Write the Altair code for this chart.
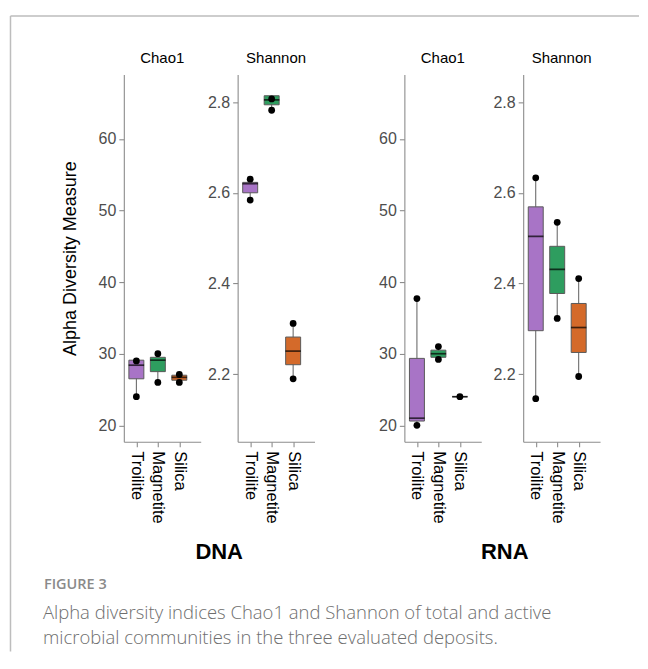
import altair as alt
import pandas as pd

# ---------------- data ----------------
minerals = ["Troilite", "Magnetite", "Silica"]
mineral_colors = ["#a874c6", "#2e9d5f", "#d46a2a"]

# DNA - Chao1
dna_chao1_lower = [24.0, 26.0, 26.0]
dna_chao1_q1 = [26.5, 27.5, 26.3]
dna_chao1_median = [28.4, 29.1, 26.7]
dna_chao1_q3 = [29.1, 29.5, 27.0]
dna_chao1_upper = [29.1, 30.0, 27.1]
dna_chao1_pt_mineral = ["Troilite", "Troilite", "Magnetite", "Magnetite", "Silica", "Silica"]
dna_chao1_pt_value = [29.0, 24.0, 30.0, 26.0, 27.1, 26.0]

# DNA - Shannon
dna_shannon_lower = [2.584, 2.782, 2.190]
dna_shannon_q1 = [2.600, 2.794, 2.221]
dna_shannon_median = [2.620, 2.805, 2.251]
dna_shannon_q3 = [2.623, 2.814, 2.282]
dna_shannon_upper = [2.630, 2.814, 2.312]
dna_shannon_pt_mineral = ["Troilite", "Troilite", "Magnetite", "Magnetite", "Silica", "Silica"]
dna_shannon_pt_value = [2.630, 2.584, 2.807, 2.782, 2.312, 2.190]

# RNA - Chao1
rna_chao1_lower = [20.0, 29.2, 24.0]
rna_chao1_q1 = [20.6, 29.5, 24.0]
rna_chao1_median = [21.0, 30.0, 24.0]
rna_chao1_q3 = [29.35, 30.5, 24.0]
rna_chao1_upper = [37.7, 31.0, 24.0]
rna_chao1_pt_mineral = ["Troilite", "Troilite", "Magnetite", "Magnetite", "Silica"]
rna_chao1_pt_value = [37.7, 20.0, 31.0, 29.2, 24.0]

# RNA - Shannon
rna_shannon_lower = [2.146, 2.323, 2.195]
rna_shannon_q1 = [2.296, 2.378, 2.248]
rna_shannon_median = [2.504, 2.431, 2.303]
rna_shannon_q3 = [2.569, 2.482, 2.356]
rna_shannon_upper = [2.633, 2.535, 2.411]
rna_shannon_pt_mineral = ["Troilite", "Troilite", "Magnetite", "Magnetite", "Silica", "Silica"]
rna_shannon_pt_value = [2.633, 2.146, 2.535, 2.323, 2.411, 2.195]

chao1_domain = [17.7, 69.0]
chao1_ticks = [20, 30, 40, 50, 60]
shannon_domain = [2.051, 2.861]
shannon_ticks = [2.2, 2.4, 2.6, 2.8]

y_title = "Alpha Diversity Measure"
figure_label = "FIGURE 3"
caption_lines = [
    "Alpha diversity indices Chao1 and Shannon of total and active",
    "microbial communities in the three evaluated deposits.",
]

# ---------------- style ----------------
FONT = "Liberation Sans"
CAP_FONT = "Open Sans"
AXIS_GREY = "#8c8c8c"
PANEL_W, PANEL_H = 77, 368


def box_frame(lower, q1, median, q3, upper):
    return pd.DataFrame({"mineral": minerals, "lower": lower, "q1": q1,
                         "median": median, "q3": q3, "upper": upper})


def point_frame(mins, vals):
    return pd.DataFrame({"mineral": mins, "value": vals})


def panel(box_df, pt_df, index_name, y_domain, y_ticks, y_format,
          x_title=None, x_title_x=0.0, show_y_title=False):
    xak = dict(labelAngle=90, labelFontSize=16.5, labelColor="black", labelFont=FONT,
               labelPadding=4, tickSize=5, tickColor=AXIS_GREY, domainColor=AXIS_GREY,
               tickWidth=1.1, domainWidth=1.1, grid=False, values=minerals)
    if x_title:
        xak.update(titleX=x_title_x, titleY=110, titleAlign="center", titleBaseline="middle",
                   titleFontSize=22, titleFontWeight="bold", titleColor="black", titleFont=FONT)
    x = alt.X("mineral:N", sort=minerals, title=x_title,
              scale=alt.Scale(type="point", domain=minerals, padding=0.79, align=0.37),
              axis=alt.Axis(**xak))

    yak = dict(values=y_ticks, format=y_format, labelFontSize=16, labelColor="#4d4d4d",
               labelFont=FONT, tickSize=5, tickColor=AXIS_GREY, domainColor=AXIS_GREY,
               tickWidth=1.1, domainWidth=1.1, grid=False, labelPadding=3)
    if show_y_title:
        yak.update(titleX=-53, titleY=PANEL_H / 2, titleAlign="center", titleBaseline="middle",
                   titleAngle=-90, titleFontSize=18, titleFontWeight="normal",
                   titleColor="black", titleFont=FONT)
    ysc = alt.Scale(domain=y_domain, nice=False, zero=False)

    def Y(field):
        return alt.Y(f"{field}:Q", scale=ysc, axis=alt.Axis(**yak),
                     title=(y_title if show_y_title else None))

    base = alt.Chart(box_df)
    whisker = base.mark_rule(color="#4d4d4d", strokeWidth=0.9).encode(
        x=x, y=Y("lower"), y2="upper:Q")
    box = base.mark_bar(size=15, stroke="#5a5a5a", strokeWidth=1).encode(
        x=x, y=Y("q1"), y2="q3:Q",
        color=alt.Color("mineral:N", scale=alt.Scale(domain=minerals, range=mineral_colors),
                        legend=None))
    med = base.mark_tick(size=15.5, thickness=1.7, color="black").encode(x=x, y=Y("median"))
    pts = alt.Chart(pt_df).mark_circle(size=46, color="black", opacity=1).encode(
        x=x, y=Y("value"))
    return alt.layer(whisker, box, med, pts).properties(
        width=PANEL_W, height=PANEL_H,
        title=alt.TitleParams(index_name, fontSize=15, font=FONT, fontWeight="normal",
                              color="black", offset=8, anchor="middle", frame="group"))


dummy = pd.DataFrame({"d": [0]})


def spacer(w, layers=()):
    blank = alt.Chart(dummy).mark_rule(opacity=0).encode(
        x=alt.value(0), y=alt.value(0), y2=alt.value(1))
    return alt.layer(blank, *layers).properties(width=w, height=PANEL_H)


# host origin (sp1) sits at page x = 200, y = 73
HX, HY = 200, 73
BORDER_COLOR = "#bdbdbd"
border_top = alt.Chart(dummy).mark_rule(color=BORDER_COLOR, strokeWidth=1.5).encode(
    x=alt.value(9.5 - HX), x2=alt.value(639 - HX), y=alt.value(14.5 - HY))
border_left = alt.Chart(dummy).mark_rule(color=BORDER_COLOR, strokeWidth=1.5).encode(
    x=alt.value(9.5 - HX), y=alt.value(14.5 - HY), y2=alt.value(651 - HY))
fig_txt = alt.Chart(dummy).mark_text(
    text=figure_label, font=CAP_FONT, fontSize=14.5, fontWeight=600, color="#8a8a8a",
    align="left", baseline="middle").encode(x=alt.value(43 - HX), y=alt.value(584 - HY))
cap1 = alt.Chart(dummy).mark_text(
    text=caption_lines[0], font=CAP_FONT, fontSize=18.5, fontWeight=300, color="#6e6e6e",
    align="left", baseline="middle").encode(x=alt.value(42 - HX), y=alt.value(612 - HY))
cap2 = alt.Chart(dummy).mark_text(
    text=caption_lines[1], font=CAP_FONT, fontSize=18.5, fontWeight=300, color="#6e6e6e",
    align="left", baseline="middle").encode(x=alt.value(42 - HX), y=alt.value(637 - HY))

dna_chao = panel(box_frame(dna_chao1_lower, dna_chao1_q1, dna_chao1_median, dna_chao1_q3, dna_chao1_upper),
                 point_frame(dna_chao1_pt_mineral, dna_chao1_pt_value),
                 "Chao1", chao1_domain, chao1_ticks, "d",
                 x_title="DNA", x_title_x=95, show_y_title=True)
dna_shan = panel(box_frame(dna_shannon_lower, dna_shannon_q1, dna_shannon_median, dna_shannon_q3, dna_shannon_upper),
                 point_frame(dna_shannon_pt_mineral, dna_shannon_pt_value),
                 "Shannon", shannon_domain, shannon_ticks, ".1f")
rna_chao = panel(box_frame(rna_chao1_lower, rna_chao1_q1, rna_chao1_median, rna_chao1_q3, rna_chao1_upper),
                 point_frame(rna_chao1_pt_mineral, rna_chao1_pt_value),
                 "Chao1", chao1_domain, chao1_ticks, "d",
                 x_title="RNA", x_title_x=100)
rna_shan = panel(box_frame(rna_shannon_lower, rna_shannon_q1, rna_shannon_median, rna_shannon_q3, rna_shannon_upper),
                 point_frame(rna_shannon_pt_mineral, rna_shannon_pt_value),
                 "Shannon", shannon_domain, shannon_ticks, ".1f")

sp1 = spacer(37, [border_top, border_left, fig_txt, cap1, cap2])
sp2 = spacer(90)
sp3 = spacer(42)

chart = alt.hconcat(dna_chao, sp1, dna_shan, sp2, rna_chao, sp3, rna_shan,
                    spacing=0, bounds="flush").properties(
    padding={"left": 1, "top": 6, "right": 0, "bottom": 0}
).configure_view(strokeWidth=0)

chart.save("out.html", embed_options={"renderer": "svg", "actions": False})
